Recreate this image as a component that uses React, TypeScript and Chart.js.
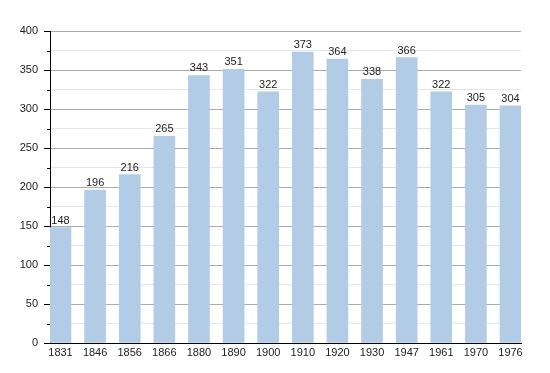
import React, { useEffect, useRef } from "react";
import { Chart, registerables } from "chart.js";

Chart.register(...registerables);

const years = ["1831", "1846", "1856", "1866", "1880", "1890", "1900", "1910", "1920", "1930", "1947", "1961", "1970", "1976"];
const population = [148, 196, 216, 265, 343, 351, 322, 373, 364, 338, 366, 322, 305, 304];
const yTicks = [0, 25, 50, 75, 100, 125, 150, 175, 200, 225, 250, 275, 300, 325, 350, 375, 400];

const FONT = "'Liberation Sans', Arial, sans-serif";

export default function App() {
  const ref = useRef<HTMLCanvasElement | null>(null);
  useEffect(() => {
    document.body.style.margin = "0";
    const canvas = ref.current!;
    const valueLabels = {
      id: "valueLabels",
      afterDatasetsDraw(chart: any) {
        const ctx = chart.ctx;
        const meta = chart.getDatasetMeta(0);
        ctx.save();
        ctx.font = `11px ${FONT}`;
        ctx.fillStyle = "#222";
        ctx.textAlign = "center";
        ctx.textBaseline = "alphabetic";
        meta.data.forEach((el: any, i: number) => {
          ctx.fillText(String(population[i]), el.x, el.y - 4);
        });
        ctx.restore();
      },
    };
    const minorTicks = {
      id: "minorTicks",
      afterDraw(chart: any) {
        const ctx = chart.ctx;
        const ys = chart.scales.y;
        ctx.save();
        ctx.strokeStyle = "#000";
        ctx.lineWidth = 1;
        yTicks.forEach((v) => {
          if (v % 50 !== 0) {
            const py = Math.round(ys.getPixelForValue(v)) + 0.5;
            ctx.beginPath();
            ctx.moveTo(ys.right - 3, py);
            ctx.lineTo(ys.right, py);
            ctx.stroke();
          }
        });
        ctx.restore();
      },
    };
    const chart = new Chart(canvas, {
      type: "bar",
      data: {
        datasets: [
          {
            data: population.map((v, i) => ({ x: i, y: v })),
            backgroundColor: "#b3cce6",
            borderWidth: 0,
            barThickness: 21,
          } as any,
        ],
      },
      options: {
        animation: false,
        responsive: false,
        maintainAspectRatio: false,
        layout: { padding: { left: 0, top: 31, right: 29, bottom: 0 } },
        plugins: { legend: { display: false }, tooltip: { enabled: false } },
        scales: {
          x: {
            type: "linear",
            offset: false,
            min: -0.3033,
            max: 13.3033,
            afterBuildTicks: (scale: any) => {
              scale.ticks = years.map((_, i) => ({ value: i }));
            },
            afterFit: (scale: any) => {
              scale.height = 30;
            },
            grid: { display: false, drawTicks: false },
            border: { display: true, color: "#000", width: 1 },
            ticks: {
              padding: 3,
              autoSkip: false,
              maxRotation: 0,
              color: "#222",
              font: { family: FONT, size: 11 },
              callback: (v: any) => years[Math.round(v)] ?? "",
            },
          },
          y: {
            min: 0,
            max: 400,
            afterBuildTicks: (scale: any) => {
              scale.ticks = yTicks.map((v) => ({ value: v }));
            },
            afterFit: (scale: any) => {
              scale.width = 50;
            },
            grid: {
              color: (c: any) => (c.tick && c.tick.value % 50 === 0 ? "#ababab" : "#e6e6e6"),
              tickColor: (c: any) => (c.tick && c.tick.value % 50 === 0 ? "#000" : "rgba(0,0,0,0)"),
              tickLength: 6,
            },
            border: { display: true, color: "#000", width: 1 },
            ticks: {
              padding: 6,
              autoSkip: false,
              color: "#222",
              font: { family: FONT, size: 11 },
              callback: (v: any) => (v % 50 === 0 ? String(v) : ""),
            },
          },
        },
      } as any,
      plugins: [valueLabels, minorTicks],
    });
    return () => chart.destroy();
  }, []);
  return (
    <div style={{ width: 550, height: 373 }}>
      <canvas ref={ref} width={550} height={373} style={{ display: "block" }} />
    </div>
  );
}
